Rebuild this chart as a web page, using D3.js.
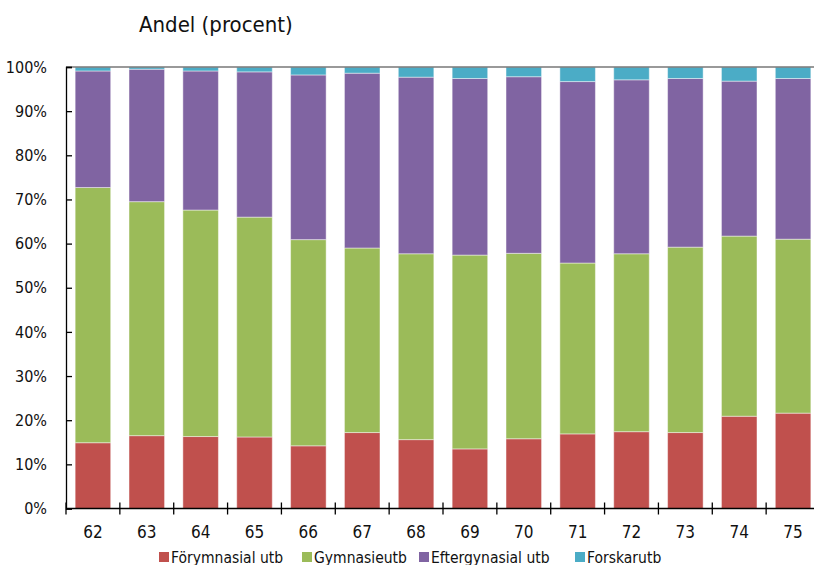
<!DOCTYPE html>
<html>
<head>
<meta charset="utf-8">
<script src="https://cdn.jsdelivr.net/npm/d3@7/dist/d3.min.js"></script>
<style>
  html, body { margin: 0; padding: 0; background: #fff; }
  svg text { font-family: "Liberation Sans Narrow", "DejaVu Sans Condensed", "Roboto Condensed", sans-serif; fill: #111; }
</style>
</head>
<body>
<svg id="chart" width="814" height="565"></svg>
<script>
// Education level shares by age (percent of each age group)
const ages = ["62", "63", "64", "65", "66", "67", "68", "69", "70", "71", "72", "73", "74", "75"];
const forgymnasial = [14.9, 16.5, 16.3, 16.2, 14.2, 17.2, 15.6, 13.5, 15.8, 16.9, 17.4, 17.2, 20.9, 21.6];
const gymnasie     = [57.8, 53.0, 51.3, 49.8, 46.7, 41.8, 42.1, 43.9, 42.0, 38.7, 40.3, 42.0, 40.8, 39.4];
const eftergymn    = [26.4, 30.0, 31.5, 32.9, 37.3, 39.6, 40.0, 40.0, 40.0, 41.1, 39.4, 38.2, 35.1, 36.4];
const forskar      = [0.9, 0.5, 0.9, 1.1, 1.8, 1.4, 2.3, 2.6, 2.2, 3.3, 2.9, 2.6, 3.2, 2.6];
const seriesNames  = ["Förymnasial utb", "Gymnasieutb", "Eftergynasial utb", "Forskarutb"];
const seriesColors = ["#C0504D", "#9BBB59", "#8064A2", "#4BACC6"];
const yTicks = [0, 10, 20, 30, 40, 50, 60, 70, 80, 90, 100];

const svg = d3.select("#chart");
const m = { left: 66, top: 67, right: 820, bottom: 508.5 };

const rows = ages.map((a, i) => ({
  age: a,
  s0: forgymnasial[i], s1: gymnasie[i], s2: eftergymn[i], s3: forskar[i]
}));
const keys = ["s0", "s1", "s2", "s3"];
const stacked = d3.stack().keys(keys)(rows);

const x = d3.scaleBand().domain(ages).range([m.left, m.right]).paddingInner(0.34).paddingOuter(0.17);
const xb = d3.scaleBand().domain(ages).range([m.left, m.right]);
const y = d3.scaleLinear().domain([0, 100]).range([m.bottom, m.top]);

// Bars
svg.append("g").selectAll("g").data(stacked).join("g")
  .attr("fill", (d, i) => seriesColors[i])
  .selectAll("rect").data(d => d).join("rect")
  .attr("x", d => x(d.data.age))
  .attr("width", x.bandwidth())
  .attr("y", d => y(d[1]))
  .attr("height", d => y(d[0]) - y(d[1]))
  .attr("stroke", "rgba(255,255,255,0.45)")
  .attr("stroke-width", 1);

// Top frame line
svg.append("line")
  .attr("x1", m.left).attr("x2", 814)
  .attr("y1", y(100)).attr("y2", y(100))
  .attr("stroke", "#777").attr("stroke-width", 1.5);

// Y axis with inward ticks
const yAxis = svg.append("g").attr("transform", `translate(${m.left},0)`)
  .call(d3.axisLeft(y).tickValues(yTicks).tickSize(-6).tickPadding(19).tickFormat(d => d + "%"));
yAxis.select(".domain").attr("stroke", "#000").attr("stroke-width", 1.3);
yAxis.selectAll(".tick line").attr("stroke", "#000").attr("stroke-width", 1.3);
yAxis.selectAll("text").attr("font-size", 16).attr("font-family", null).attr("fill", "#111");

// X axis: ticks at category boundaries crossing the axis line
const xAxis = svg.append("g").attr("transform", `translate(0,${m.bottom})`);
xAxis.append("line").attr("x1", m.left).attr("x2", 814).attr("y1", 0).attr("y2", 0)
  .attr("stroke", "#000").attr("stroke-width", 1.3);
xAxis.selectAll("line.tk").data(ages).join("line").attr("class", "tk")
  .attr("x1", d => xb(d)).attr("x2", d => xb(d))
  .attr("y1", -6).attr("y2", 6)
  .attr("stroke", "#000").attr("stroke-width", 1.3);
xAxis.selectAll("text").data(ages).join("text")
  .attr("x", d => xb(d) + xb.bandwidth() / 2)
  .attr("y", 29.5)
  .attr("text-anchor", "middle")
  .attr("font-size", 17)
  .text(d => d);

// Title
svg.append("text").attr("x", 139).attr("y", 31.5).attr("font-size", 22).text("Andel (procent)");

// Legend
const legendX = [159, 302, 419, 575];
const lg = svg.append("g").attr("transform", "translate(0,557)");
seriesNames.forEach((n, i) => {
  lg.append("rect").attr("x", legendX[i]).attr("y", -5).attr("width", 10).attr("height", 10).attr("fill", seriesColors[i]);
  lg.append("text").attr("x", legendX[i] + 12).attr("y", 5.5).attr("font-size", 15.5).text(n);
});
</script>
</body>
</html>
